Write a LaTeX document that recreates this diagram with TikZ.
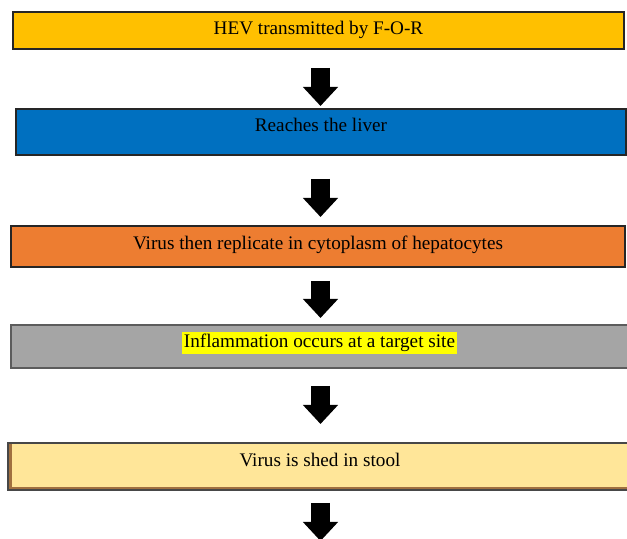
\documentclass[tikz,border=0pt]{standalone}
\usepackage{fontspec}
\setmainfont{Liberation Serif}
\usepackage{tikz}
\usetikzlibrary{calc,positioning,arrows.meta}
\usepackage{xcolor}
\definecolor{stepgold}{RGB}{255,192,0}
\definecolor{stepblue}{RGB}{0,112,192}
\definecolor{steporange}{RGB}{237,125,49}
\definecolor{stepgray}{RGB}{165,165,165}
\definecolor{stepcream}{RGB}{255,230,153}
\definecolor{shadowbrown}{RGB}{160,112,64}
\definecolor{boxline}{RGB}{38,38,38}
\definecolor{hilite}{RGB}{255,255,0}

\begin{document}
\begin{tikzpicture}[x=0.5pt, y=-0.5pt,
    stepbox/.style={rectangle, draw=boxline, line width=0.6pt, inner sep=0pt, outer sep=0pt,
      text height=7pt, font=\fontsize{9.6}{11}\selectfont},
    blockarrow/.style={line width=9.5pt, -{Triangle[width=17pt,length=9.5pt]}}]
  \useasboundingbox (0,0) rectangle (627,539);

  % Steps
  \node[stepbox, fill=stepgold, minimum width=305.5pt, minimum height=18.5pt, text depth=2.5pt] (s1) at (318.5,30.5) {HEV transmitted by F-O-R};
  \node[stepbox, fill=stepblue, minimum width=305pt, minimum height=23pt, text depth=7pt] (s2) at (321,132) {Reaches the liver};
  \node[stepbox, fill=steporange, minimum width=307pt, minimum height=20.5pt, text depth=3.5pt] (s3) at (318,246.5) {Virus then replicate in cytoplasm of hepatocytes};
  \node[stepbox, fill=stepgray, draw=boxline!75, minimum width=308.5pt, minimum height=21.5pt, text depth=5.5pt] (s4) at (319.5,346.5) {{\setlength{\fboxsep}{1pt}\colorbox{hilite}{Inflammation occurs at a target site}}};

  % last step with shadow
  \fill[shadowbrown] (8,443) rectangle (628,490);
  \node[stepbox, draw=none, fill=stepcream, minimum width=308pt, minimum height=22pt, text depth=5pt] (s5) at (320,465) {Virus is shed in stool};
  \draw[boxline!85, line width=0.6pt] ([xshift=-2pt]s5.north west) rectangle ([yshift=-1.5pt]s5.south east);

  % Arrows
  \coordinate (t1) at (320.5,68);  \coordinate (h1) at (320.5,106);
  \coordinate (t2) at (320.5,179); \coordinate (h2) at (320.5,217);
  \coordinate (t3) at (320.5,281); \coordinate (h3) at (320.5,318);
  \coordinate (t4) at (320.5,386); \coordinate (h4) at (320.5,424);
  \coordinate (t5) at (320.5,503); \coordinate (h5) at (320.5,541);
  \draw[blockarrow] (t1) -- (h1);
  \draw[blockarrow] (t2) -- (h2);
  \draw[blockarrow] (t3) -- (h3);
  \draw[blockarrow] (t4) -- (h4);
  \draw[blockarrow] (t5) -- (h5);
\end{tikzpicture}
\end{document}
